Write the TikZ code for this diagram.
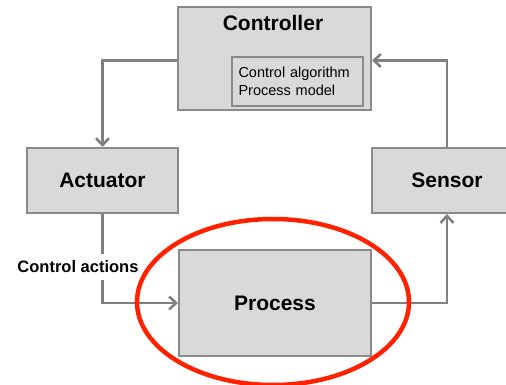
\documentclass[tikz,border=0pt]{standalone}
\usepackage{fontspec}
\setmainfont{Liberation Sans}
\usetikzlibrary{arrows.meta,positioning,calc,shapes.geometric}
\definecolor{boxfill}{HTML}{D9D9D9}
\definecolor{boxline}{HTML}{8A8A8A}
\definecolor{wire}{HTML}{808080}
\definecolor{ring}{HTML}{FF2200}
\tikzset{
  block/.style={draw=boxline, fill=boxfill, line width=2pt, inner sep=0pt,
    font=\bfseries\fontsize{21}{24}\selectfont},
  arr/.style={draw=wire, line width=2.8pt,
    -{Straight Barb[length=7pt,width=13pt,line width=2.6pt]}},
}
\begin{document}
\begin{tikzpicture}[x=1pt,y=-1pt]
\useasboundingbox (0,0) rectangle (506,385);
\clip (0,0) rectangle (506,385);

% blocks
\node[block, minimum width=193pt, minimum height=103pt] (ctrl) at (274.5,58.5) {};
\node[font=\bfseries\fontsize{21}{24}\selectfont] (ctrltitle) at (273,23) {Controller};
\node[draw=boxline, fill=boxfill, line width=1.6pt, text width=118pt, minimum height=49pt,
      align=left, inner xsep=6.5pt, inner ysep=4pt, font=\fontsize{14.5}{17.5}\selectfont]
      (inner) at (297.5,81.5) {Control algorithm\\Process model};
\node[block, minimum width=151pt, minimum height=65pt] (act) at (102.5,180.5) {Actuator};
\node[block, minimum width=150pt, minimum height=65pt] (sens) at (447,180.5) {Sensor};
\node[block, minimum width=192pt, minimum height=106pt] (proc) at (275,303) {Process};

% connectors
\draw[arr] ([yshift=-2pt]ctrl.west) -| (act.north);
\draw[arr] (act.south) |- (proc.west);
\draw[arr] (proc.east) -| (sens.south);
\draw[arr] (sens.north) |- ([yshift=-2pt]ctrl.east);

% label on the actuator line
\node[fill=white, inner xsep=1pt, inner ysep=7pt,
      font=\bfseries\fontsize{16.5}{19}\selectfont] (lbl) at (78,267) {Control actions};

% highlight ring round the process
\node[draw=ring, line width=4.5pt, ellipse, minimum width=272pt, minimum height=166pt,
      inner sep=0pt] (focus) at (273,302) {};
\end{tikzpicture}
\end{document}
